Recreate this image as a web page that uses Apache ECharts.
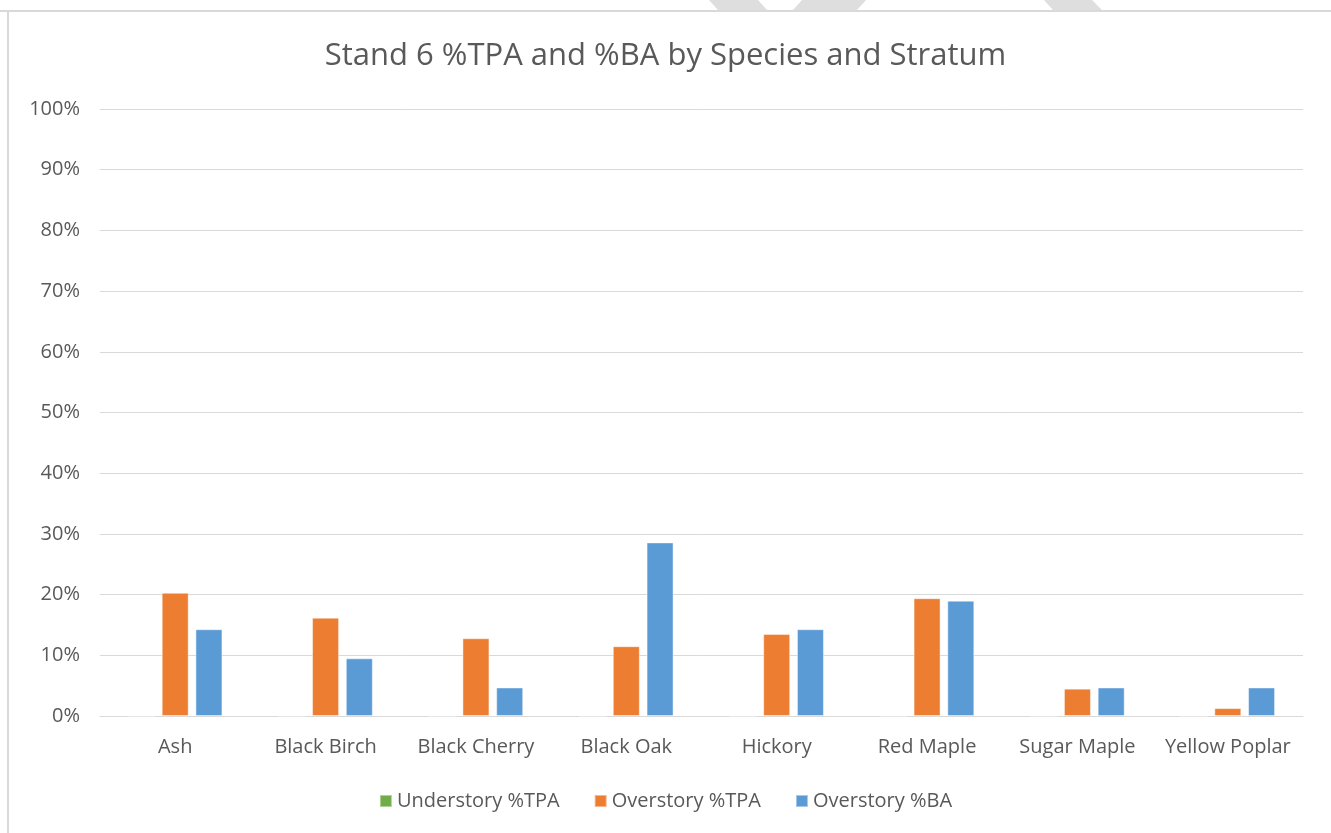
<!DOCTYPE html>
<html>
<head>
<meta charset="utf-8">
<style>
html,body{margin:0;padding:0;background:#fff;}
#chart{width:1331px;height:833px;}
</style>
<script src="https://cdn.jsdelivr.net/npm/echarts@6/dist/echarts.min.js"></script>
</head>
<body>
<div id="chart"></div>
<script>
var categories = ['Ash','Black Birch','Black Cherry','Black Oak','Hickory','Red Maple','Sugar Maple','Yellow Poplar'];
var understoryTPA = [0,0,0,0,0,0,0,0];
var overstoryTPA = [20.3,16.2,12.8,11.5,13.5,19.4,4.5,1.3];
var overstoryBA = [14.3,9.5,4.7,28.6,14.3,19.0,4.7,4.7];
var seriesNames = ['Understory %TPA','Overstory %TPA','Overstory %BA'];
var yTicks = [0,10,20,30,40,50,60,70,80,90,100];

var font = '"Open Sans", "Noto Sans", sans-serif';
var chart = echarts.init(document.getElementById('chart'), null, {renderer:'canvas'});
function mkBar(name, data, color){
  return {
    name: name, type: 'bar', data: data, barWidth: 27, barGap: '25%',
    itemStyle: {color: color, borderColor: 'rgba(255,255,255,0.45)', borderWidth: 1},
    animation: false
  };
}
chart.setOption({
  animation: false,
  backgroundColor: '#fff',
  title: {
    text: 'Stand 6 %TPA and %BA by Species and Stratum',
    left: 'center', top: 36,
    textStyle: {fontFamily: font, fontSize: 31, fontWeight: 'normal', color: '#595959'}
  },
  graphic: [
    {type:'polygon', shape:{points:[[709,0],[758,0],[767,10],[718,10]]}, style:{fill:'#dedede'}, z:-1},
    {type:'polygon', shape:{points:[[802,0],[866,0],[857,10],[793,10]]}, style:{fill:'#dedede'}, z:-1},
    {type:'polygon', shape:{points:[[1044,0],[1092,0],[1102,10],[1053,10]]}, style:{fill:'#dedede'}, z:-1},
    {type:'line', shape:{x1:0,y1:11,x2:1331,y2:11}, style:{stroke:'#d9d9d9', lineWidth:2}},
    {type:'line', shape:{x1:8,y1:11,x2:8,y2:833}, style:{stroke:'#d9d9d9', lineWidth:2}}
  ],
  legend: {
    data: seriesNames, bottom: 17, left: 'center',
    icon: 'rect', itemWidth: 12, itemHeight: 12, itemGap: 34,
    textStyle: {fontFamily: font, fontSize: 20, color: '#595959'}
  },
  grid: {left: 100, right: 28, top: 109, bottom: 117, containLabel: false},
  xAxis: {
    type: 'category', data: categories,
    axisLine: {lineStyle: {color: '#d9d9d9', width: 1}},
    axisTick: {show: false},
    axisLabel: {fontFamily: font, fontSize: 20, color: '#595959', margin: 21, interval: 0}
  },
  yAxis: {
    type: 'value', min: 0, max: 100, interval: 10,
    axisLine: {show: false}, axisTick: {show: false},
    splitLine: {lineStyle: {color: '#d9d9d9', width: 1}},
    axisLabel: {fontFamily: font, fontSize: 20, color: '#595959', margin: 20,
      formatter: function(v){ return yTicks.indexOf(v) >= 0 ? v + '%' : ''; }}
  },
  series: [
    mkBar(seriesNames[0], understoryTPA, '#70AD47'),
    mkBar(seriesNames[1], overstoryTPA, '#ED7D31'),
    mkBar(seriesNames[2], overstoryBA, '#5B9BD5')
  ]
});
</script>
</body>
</html>
